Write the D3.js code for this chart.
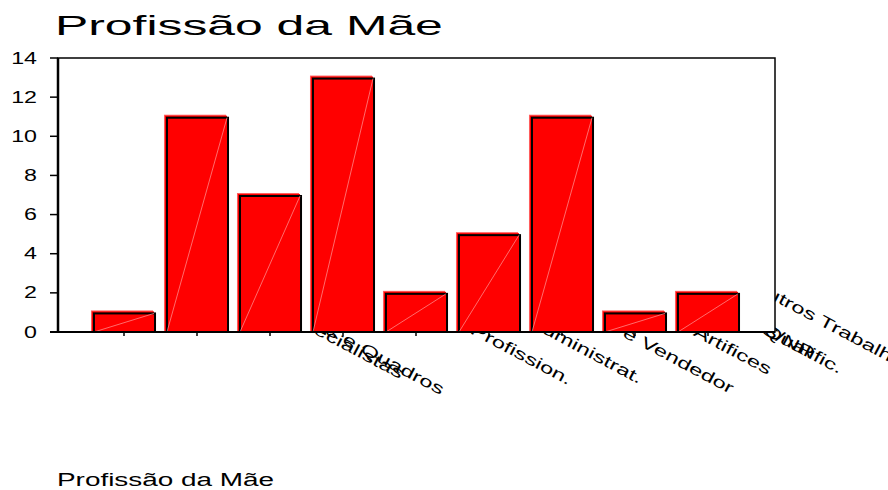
<!DOCTYPE html>
<html>
<head>
<meta charset="utf-8">
<script src="https://cdn.jsdelivr.net/npm/d3@7"></script>
<style>
  html, body { margin: 0; padding: 0; background: #fff; }
  svg { display: block; font-family: "Liberation Sans", Arial, sans-serif; }
</style>
</head>
<body>
<svg id="chart" width="888" height="490"></svg>
<script>
// ---- data ----
const chartTitle = "Profissão da Mãe";
const axisTitle = "Profissão da Mãe";
const categories = ["Domésticas", "Estudantes", "Desempregadas", "Dirigentes e Quadros", "Especialistas",
  "Técnicos e Profission.", "Pessoal Administrat.", "Serviços e Vendedor", "Operários, Artifices"];
const counts = [1, 11, 7, 13, 2, 5, 11, 1, 2];
const yTicks = [0, 2, 4, 6, 8, 10, 12, 14];
// axis label slots (as drawn by the original package, lines separated by "\n")
const slotLabels = ["", "", "", "Dirigentes e Quadros\nEspecialistas", "", "Téc. e Profission.",
  "Pes. Administrat.", "Serviços e Vendedor", "Ops, Artifices", "NS/NR|Não Qualific.", "Outros Trabalhadores"];

// ---- layout ----
const svg = d3.select("#chart");
const plot = { left: 58, right: 775, top: 58, bottom: 332 };
const stretch = 1.5;
const slots = d3.range(slotLabels.length);

const x = d3.scalePoint().domain(slots).range([124, 124 + 73 * (slots.length - 1)]);
const step = x.step();
const barW = step * 0.85;
const y = d3.scaleLinear().domain([0, 14]).range([plot.bottom, plot.top]);

function stretchText(sel, k) {
  sel.each(function () {
    const len = this.getComputedTextLength();
    d3.select(this).attr("textLength", len * k).attr("lengthAdjust", "spacingAndGlyphs");
  });
}

// title
svg.append("text").attr("x", 55).attr("y", 35).attr("font-size", 28).attr("fill", "#000")
  .text(chartTitle).call(stretchText, 1.78);

// x axis labels (drawn first, covered by plot area)
const labelG = svg.append("g");
slots.forEach((s, i) => {
  const raw = slotLabels[i];
  if (!raw) return;
  raw.split("\n").forEach((line, j) => {
    line.split("|").forEach(part => {
      const g = labelG.append("g")
        .attr("transform", `translate(${x(s)},${plot.bottom + 5}) rotate(28)`);
      g.append("text").attr("x", 0).attr("y", j * 5).attr("dy", "0.35em")
        .attr("text-anchor", "middle").attr("font-size", 16).attr("fill", "#000")
        .text(part).call(stretchText, stretch);
    });
  });
});

// plot background covers hidden label parts
svg.append("rect").attr("x", plot.left).attr("y", plot.top)
  .attr("width", plot.right - plot.left).attr("height", plot.bottom - plot.top).attr("fill", "#fff");

// bars
const bars = svg.append("g");
counts.forEach((v, i) => {
  const cx = x(slots[i]);
  const x0 = cx - barW / 2, y0 = y(v), h = y(0) - y(v);
  bars.append("rect").attr("x", x0 - 2).attr("y", y0 - 2).attr("width", barW).attr("height", h + 2)
    .attr("fill", "#ff6060");
  bars.append("rect").attr("x", x0 - 1).attr("y", y0 - 1).attr("width", barW).attr("height", h + 1)
    .attr("fill", "#ff0000");
  bars.append("rect").attr("x", x0 + 1).attr("y", y0 + 1).attr("width", barW - 1).attr("height", h - 1)
    .attr("fill", "#ff0000").attr("stroke", "#000").attr("stroke-width", 2);
  bars.append("line").attr("x1", x0 + 1).attr("y1", y(0)).attr("x2", x0 + barW - 1).attr("y2", y0 + 1)
    .attr("stroke", "#ff9a9a").attr("stroke-width", 0.7);
});

// frame
svg.append("rect").attr("x", plot.left).attr("y", plot.top)
  .attr("width", plot.right - plot.left).attr("height", plot.bottom - plot.top)
  .attr("fill", "none").attr("stroke", "#000").attr("stroke-width", 1.5);
svg.append("line").attr("x1", plot.left).attr("x2", plot.left).attr("y1", plot.top).attr("y2", plot.bottom)
  .attr("stroke", "#000").attr("stroke-width", 2.5);
svg.append("line").attr("x1", 50).attr("x2", plot.right).attr("y1", plot.bottom).attr("y2", plot.bottom)
  .attr("stroke", "#000").attr("stroke-width", 2);

// y axis ticks + labels
const yAxis = svg.append("g");
yTicks.forEach(t => {
  yAxis.append("line").attr("x1", 50).attr("x2", plot.left).attr("y1", y(t)).attr("y2", y(t))
    .attr("stroke", "#000").attr("stroke-width", 1.5);
  yAxis.append("text").attr("x", 37).attr("y", y(t)).attr("dy", "0.35em").attr("text-anchor", "end")
    .attr("font-size", 16).attr("fill", "#000").text(t).call(stretchText, 1.45);
});

// x ticks at bar centres
counts.forEach((v, i) => {
  svg.append("line").attr("x1", x(slots[i])).attr("x2", x(slots[i]))
    .attr("y1", plot.bottom).attr("y2", plot.bottom + 4).attr("stroke", "#000").attr("stroke-width", 1.5);
});

// axis title at bottom
svg.append("text").attr("x", 57).attr("y", 486).attr("font-size", 18).attr("fill", "#000")
  .text(axisTitle).call(stretchText, 1.55);
</script>
</body>
</html>
